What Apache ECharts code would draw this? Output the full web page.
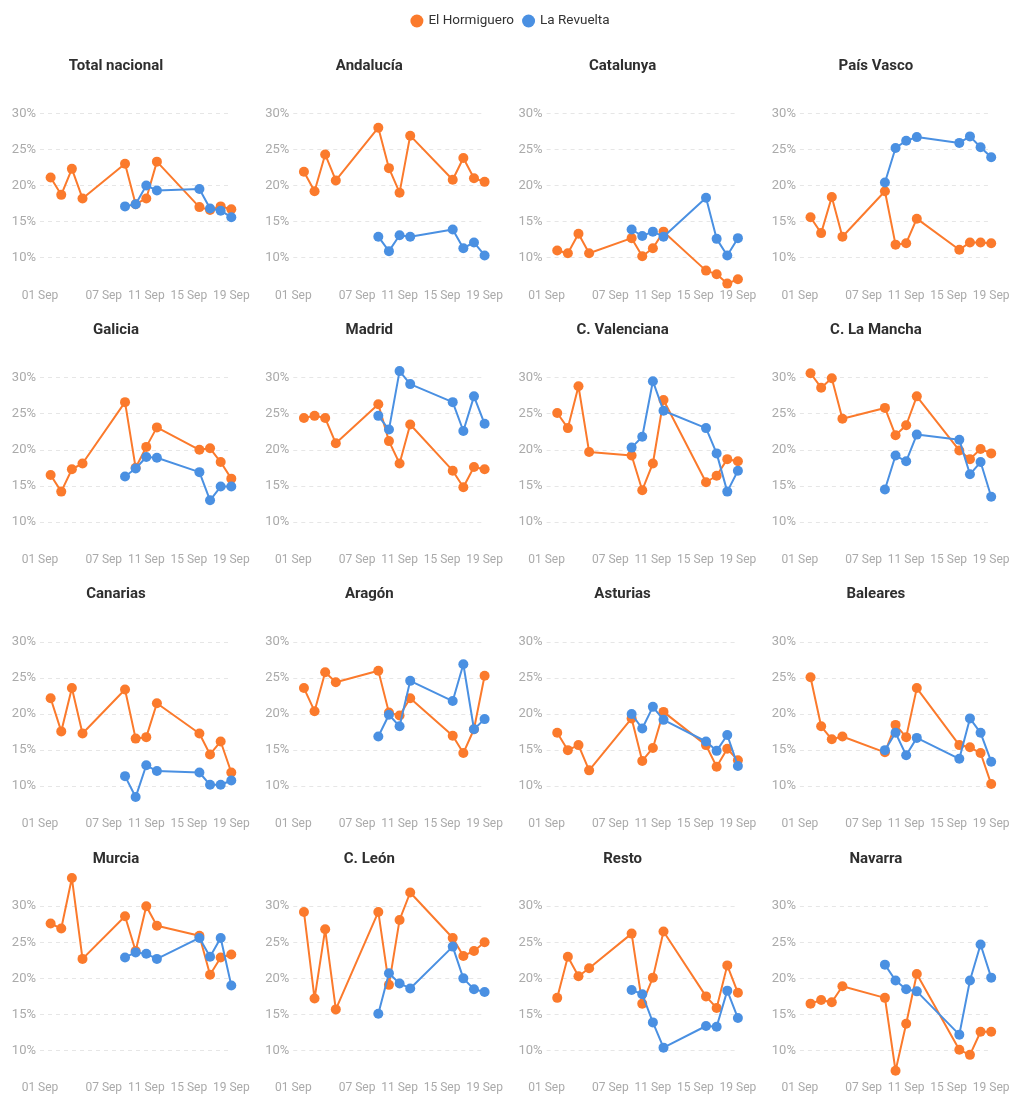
<!DOCTYPE html>
<html><head><meta charset="utf-8">
<script src="https://cdn.jsdelivr.net/npm/echarts@6/dist/echarts.min.js"></script>
<style>html,body{margin:0;padding:0;background:#fff}#c{width:1020px;height:1109px}</style>
</head><body><div id="c"></div>
<script>
const regions = ['Total nacional','Andalucía','Catalunya','País Vasco','Galicia','Madrid','C. Valenciana','C. La Mancha','Canarias','Aragón','Asturias','Baleares','Murcia','C. León','Resto','Navarra'];
const seriesNames = ['El Hormiguero','La Revuelta'];
const hormigueroDays = [2,3,4,5,9,10,11,12,16,17,18,19];
const revueltaDays = [9,10,11,12,16,17,18,19];
const xTickDays = [1,7,11,15,19];
const xTickLabels = ['01 Sep','07 Sep','11 Sep','15 Sep','19 Sep'];
const yTickValues = [10,15,20,25,30];

const hormigueroValues = [
  [21.1,18.7,22.3,18.2,23.0,17.4,18.2,23.3,17.0,16.6,17.1,16.7],
  [21.9,19.2,24.3,20.7,28.0,22.4,19.0,26.9,20.8,23.8,21.0,20.5],
  [11.0,10.6,13.3,10.6,12.7,10.2,11.3,13.6,8.2,7.7,6.4,7.0],
  [15.6,13.4,18.4,12.9,19.2,11.8,12.0,15.4,11.1,12.1,12.1,12.0],
  [16.5,14.2,17.3,18.1,26.6,17.5,20.4,23.1,20.0,20.2,18.3,16.0],
  [24.4,24.7,24.4,20.9,26.3,21.2,18.1,23.5,17.1,14.8,17.6,17.3],
  [25.1,23.0,28.8,19.7,19.2,14.4,18.1,26.9,15.5,16.4,18.7,18.4],
  [30.6,28.6,29.9,24.3,25.8,22.0,23.4,27.4,19.9,18.7,20.1,19.5],
  [22.2,17.6,23.6,17.3,23.4,16.6,16.8,21.5,17.3,14.4,16.2,11.9],
  [23.6,20.4,25.8,24.4,26.0,20.2,19.8,22.2,17.0,14.6,17.9,25.3],
  [17.4,15.0,15.7,12.2,19.4,13.5,15.3,20.3,15.7,12.7,15.2,13.6],
  [25.1,18.3,16.5,16.9,14.7,18.5,16.8,23.6,15.7,15.4,14.6,10.3],
  [27.6,26.9,33.9,22.7,28.6,23.8,30.0,27.3,25.9,20.5,22.9,23.3],
  [29.2,17.2,26.8,15.7,29.2,19.1,28.1,31.9,25.6,23.1,23.8,25.0],
  [17.3,23.0,20.3,21.4,26.2,16.5,20.1,26.5,17.5,15.9,21.8,18.0],
  [16.5,17.0,16.7,18.9,17.3,7.2,13.7,20.6,10.1,9.4,12.6,12.6]
];
const revueltaValues = [
  [17.1,17.4,20.0,19.3,19.5,16.8,16.5,15.6],
  [12.9,10.9,13.1,12.9,13.9,11.3,12.1,10.3],
  [13.9,13.0,13.6,12.9,18.3,12.6,10.3,12.7],
  [20.4,25.2,26.2,26.7,25.9,26.8,25.3,23.9],
  [16.3,17.4,19.0,18.9,16.9,13.0,14.9,14.9],
  [24.7,22.8,30.9,29.1,26.6,22.6,27.4,23.6],
  [20.3,21.8,29.5,25.4,23.0,19.5,14.2,17.1],
  [14.5,19.2,18.4,22.1,21.4,16.6,18.3,13.5],
  [11.4,8.5,12.9,12.1,11.9,10.2,10.2,10.8],
  [16.9,19.9,18.3,24.6,21.8,26.9,17.9,19.3],
  [20.0,18.0,21.0,19.2,16.2,14.9,17.1,12.8],
  [15.0,17.4,14.3,16.7,13.8,19.4,17.4,13.4],
  [22.9,23.6,23.4,22.7,25.6,23.0,25.6,19.0],
  [15.1,20.7,19.3,18.6,24.4,20.0,18.5,18.1],
  [18.4,17.8,13.9,10.4,13.4,13.3,18.3,14.5],
  [21.9,19.7,18.5,18.2,12.2,19.7,24.7,20.1]
];

const colors = ['#fb7a2c', '#4a90e2'];
const FONT = 'Roboto, "Noto Sans", sans-serif';
const colStep = 253.3, rowStep = 264.3;

const grids = [], xAxes = [], yAxes = [], titles = [], series = [];
regions.forEach((name, i) => {
  const r = Math.floor(i / 4), c = i % 4;
  grids.push({left: 40 + colStep * c, top: 113.3 + rowStep * r, width: 191.3, height: 173.2});
  titles.push({
    text: name, left: 116 + colStep * c, top: 58.5 + rowStep * r, textAlign: 'center', padding: 0,
    textStyle: {fontFamily: FONT, fontSize: 15, fontWeight: 'bold', color: '#2f2f2f'}
  });
  xAxes.push({
    type: 'value', gridIndex: i, min: 1, max: 19, interval: 1,
    axisLine: {show: false}, axisTick: {show: false}, splitLine: {show: false},
    axisLabel: {
      margin: 3, fontFamily: FONT, fontSize: 12, color: '#aaaaaa',
      formatter: v => { const k = xTickDays.indexOf(v); return k >= 0 ? xTickLabels[k] : ''; }
    }
  });
  yAxes.push({
    type: 'value', gridIndex: i, min: 6, max: 30, minInterval: 5, maxInterval: 5,
    axisLine: {show: false}, axisTick: {show: false},
    splitLine: {show: true, showMinLine: false, lineStyle: {color: '#e6e6e6', type: [4, 4], width: 1}},
    axisLabel: {
      margin: 4, fontFamily: FONT, fontSize: 13, color: '#aaaaaa', showMinLabel: false,
      formatter: v => yTickValues.includes(v) ? v + '%' : ''
    }
  });
  [[hormigueroDays, hormigueroValues[i]], [revueltaDays, revueltaValues[i]]].forEach(([days, vals], s) => {
    series.push({
      name: seriesNames[s], type: 'line', xAxisIndex: i, yAxisIndex: i,
      data: days.map((d, k) => [d, vals[k]]),
      symbol: 'circle', symbolSize: 10, clip: false, z: 2 + s,
      lineStyle: {color: colors[s], width: 2},
      itemStyle: {color: colors[s]},
      emphasis: {disabled: true}
    });
  });
});

const chart = echarts.init(document.getElementById('c'), null, {renderer: 'canvas'});
chart.setOption({
  animation: false,
  color: colors,
  textStyle: {fontFamily: FONT},
  title: titles,
  legend: {
    data: seriesNames, top: 9, left: 'center', icon: 'circle', itemWidth: 13, itemHeight: 13, itemGap: 8,
    textStyle: {fontFamily: FONT, fontSize: 13.5, color: '#333'}
  },
  grid: grids, xAxis: xAxes, yAxis: yAxes, series: series
});
</script></body></html>
